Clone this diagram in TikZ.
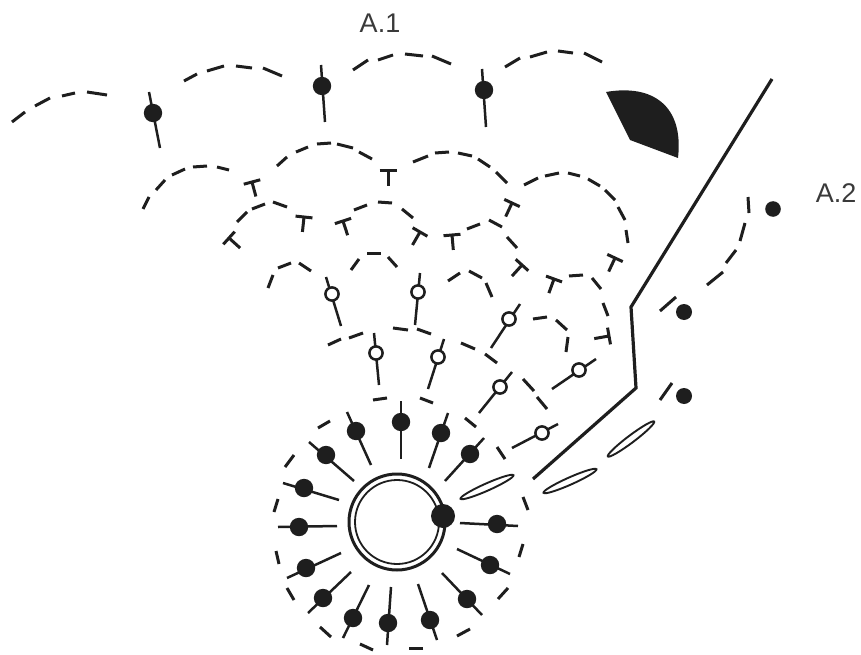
\documentclass[tikz,border=0pt]{standalone}
\usepackage{fontspec}
\setmainfont{Liberation Sans}
\usepackage{xcolor}
\definecolor{ink}{HTML}{1E1E1E}
\definecolor{labelc}{HTML}{3A3A3A}
\tikzset{
  chainl/.style={draw=ink, line width=3pt},
  stem/.style={draw=ink, line width=2.5pt},
  blob/.style={fill=ink, draw=none},
  ringo/.style={draw=ink, line width=3pt},
  ringi/.style={draw=ink, line width=1.8pt},
  leaf/.style={draw=ink, line width=1.9pt, fill=white},
  lab/.style={font=\fontsize{27}{31}\selectfont, text=labelc, inner sep=0pt},
  tbar/.pic={\draw[chainl] (-8.5,0) -- (8.5,0) (0,0) -- (0,15);},
}
\begin{document}
\begin{tikzpicture}[x=1pt,y=-1pt]
  \useasboundingbox (0,0) rectangle (861,655);
  \node[lab] (aone) at (380,23) {A.1};
  \node[lab] (atwo) at (836,193) {A.2};
  % chains
  \foreach \a/\b/\c/\d in {
    12/122/25/112, 35/106/50/98, 62/96/75/93, 87/92/107/95,
    184/81/197/74, 207/71/224/66, 236/66/252/68, 263/68/282/76,
    353/70/368/60, 378/60/393/55, 405/54/423/56, 432/56/451/64,
    505/67/520/58, 530/57/547/52, 558/51/573/53, 584/53/602/62,
    143/209/149/197, 156/190/165/180, 172/175/185/169, 193/167/207/166, 217/167/229/170,
    277/166/287/157, 296/152/308/147, 317/144/331/143, 337/144/353/148, 359/152/372/159,
    413/162/428/156, 435/153/449/152, 458/153/472/156, 478/159/490/167, 496/172/507/183,
    524/185/538/178, 545/176/559/173, 568/173/580/176, 588/179/600/186, 605/190/615/200, 618/207/625/220, 626/230/628/243,
    237/222/247/212, 252/209/265/204, 273/202/287/207,
    354/210/367/205, 378/202/392/203, 402/209/413/218,
    467/229/480/224, 489/220/502/227, 507/237/517/248,
    569/276/583/275, 592/278/601/289, 603/303/608/316,
    268/288/273/275, 278/268/291/263, 299/263/311/271,
    351/270/359/259, 367/253/381/253, 388/257/397/267,
    448/281/460/273, 469/271/482/278, 486/283/492/297,
    533/319/547/317, 556/320/567/330, 568/337/566/352,
    328/345/341/339, 349/338/363/333, 393/328/408/330, 417/329/431/334,
    461/343/475/349, 485/354/497/363, 523/379/534/391, 537/397/547/409,
    373/400/387/398, 420/398/433/403, 465/418/476/427, 497/447/505/459,
    523/497/528/510, 523/544/519/557, 508/588/498/599, 470/629/457/636,
    423/648/409/648, 373/650/360/644, 331/637/320/627, 294/600/287/588,
    279/564/276/551, 274/512/278/499, 285/467/294/455, 318/428/330/421,
    748/197/749/213, 745/223/740/241, 736/250/726/263, 723/272/707/285,
    676/297/660/311, 672/383/660/400}
    \draw[chainl] (\a,\b) -- (\c,\d);
  % solid stitches
  \foreach \x/\y/\a/\b/\c/\d in {
    153/113/149/92/160/148, 322/86/321/65/325/122, 484/90/482/69/486/127,
    401/422/401/401/401/459, 441/433/448/413/429/468, 470/454/484/438/445/481,
    497/524/518/526/460/523, 490/565/510/574/457/549, 467/599/482/615/442/573,
    430/620/437/640/418/584, 388/623/387/645/391/587, 353/618/343/638/369/585,
    323/598/308/613/351/572, 306/568/287/578/341/553, 299/527/278/527/337/526,
    304/488/283/483/339/500, 326/455/309/442/354/481, 356/431/347/412/371/465} {
    \draw[stem] (\a,\b) -- (\c,\d);
    \fill[blob] (\x,\y) circle (9.2);
  }
  % open stitches
  \foreach \x/\y/\a/\b/\c/\d in {
    332/294/326/277/341/326, 418/292/420/273/415/325, 509/319/520/304/491/348,
    579/370/596/359/552/389, 376/353/374/333/379/385, 438/357/444/339/428/389,
    500/387/512/372/479/413, 542/433/558/424/512/448} {
    \draw[stem] (\a,\b) -- (\c,\d);
    \draw[stem, fill=white] (\x,\y) circle (6.6);
  }
  % bars
  \foreach \x/\y/\r in {
    252/182/15, 388/171/0, 512/203/-25, 615/258/-25,
    304/217/-6, 343/221/18, 420/232/-30, 452/235/5,
    522/265/-42, 554/279/-20, 609/336/-80, 229/238/48}
    \pic[rotate=\r] at (\x,\y) {tbar};
  % ring
  \draw[ringo] (397,522) circle (48);
  \draw[ringi] (397,522) circle (42);
  \fill[blob] (443,516) circle (12);
  % leaves
  \foreach \x/\y/\r in {487/487/24, 570/481/24, 631/439/37}
    \draw[leaf, rotate around={\r:(\x,\y)}] (\x,\y) ellipse [x radius=29, y radius=3.6];
  % wedge and edge
  \fill[blob] (606,92) .. controls (652,84) and (684,105) .. (678,158) -- (630,140) -- cycle;
  \draw[ink, line width=3.2pt, line join=miter] (772,79) -- (631,307) -- (636,388) -- (533,479);
  % loose dots
  \foreach \x/\y/\s in {773/209/7.8, 684/312/8, 684/396/8}
    \fill[blob] (\x,\y) circle (\s);
\end{tikzpicture}
\end{document}
